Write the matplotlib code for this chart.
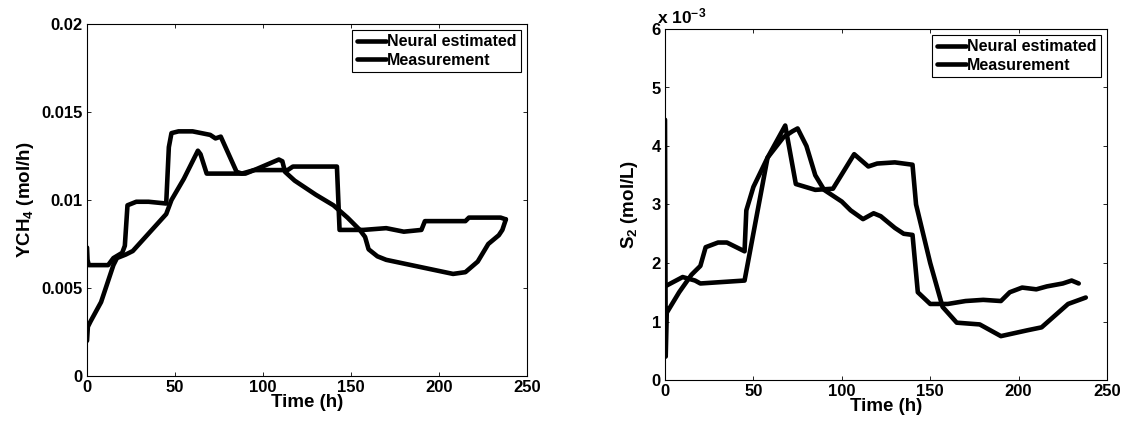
import matplotlib
matplotlib.use("Agg")
import matplotlib.pyplot as plt
from matplotlib.ticker import FuncFormatter

plt.rcParams['font.family'] = ['Liberation Sans', 'DejaVu Sans']
plt.rcParams['font.weight'] = 'bold'
plt.rcParams['mathtext.default'] = 'regular'

# ---- Left panel: YCH4 (mol/h) ----
ych4_meas_t = [0, 0.3, 1, 12, 15, 20, 21.5, 23, 28, 35, 45, 46.5, 48, 52, 60, 70, 73, 76,
               85, 88, 95, 112, 114, 117, 142, 143.5, 157, 170, 180, 190, 192, 215, 217, 235, 238]
ych4_meas_v = [0.0073, 0.0066, 0.0063, 0.0063, 0.0067, 0.0070, 0.0074, 0.0097, 0.0099, 0.0099, 0.0098,
               0.0130, 0.0138, 0.0139, 0.0139, 0.0137, 0.0135, 0.0136,
               0.0116, 0.0115, 0.0117, 0.0117, 0.0117, 0.0119, 0.0119, 0.0083, 0.0083, 0.0084, 0.0082,
               0.0083, 0.0088, 0.0088, 0.0090, 0.0090, 0.0089]

ych4_neur_t = [0, 0.5, 2, 8, 15, 17, 22, 26, 45, 48, 55, 63, 64.5, 68, 90, 95, 109, 111, 112.5, 118,
               130, 140, 148, 155, 158, 160, 165, 170, 208, 215, 222, 228, 234, 236, 238]
ych4_neur_v = [0.0020, 0.0028, 0.0031, 0.0042, 0.0063, 0.0067, 0.0069, 0.0071, 0.0092, 0.0100,
               0.0112, 0.0128, 0.0126, 0.0115, 0.0115, 0.0117, 0.0123, 0.0122, 0.0116, 0.0111,
               0.0103, 0.0097, 0.0090, 0.0083, 0.0079, 0.0072, 0.0068, 0.0066, 0.0058, 0.0059,
               0.0065, 0.0075, 0.0080, 0.0083, 0.0089]

# ---- Right panel: S2 (units of 1e-3 mol/L) ----
s2_meas_t = [0, 10, 17, 20, 45, 58, 68, 74, 85, 95, 107, 115, 120, 130, 140, 142, 150, 157, 165,
             178, 190, 205, 213, 228, 238]
s2_meas_v = [1.60, 1.76, 1.70, 1.65, 1.70, 3.80, 4.35, 3.35, 3.25, 3.27, 3.86, 3.65, 3.70, 3.72, 3.68,
             3.00, 2.00, 1.25, 0.98, 0.95, 0.75, 0.85, 0.90, 1.30, 1.41]

s2_neur_t = [0, 0.4, 1, 8, 15, 20, 23, 30, 35, 45, 46, 50, 58, 67, 72, 75, 80, 85, 90, 100, 105,
             112, 118, 122, 130, 135, 140, 143, 150, 160, 170, 180, 190, 195, 202, 210, 216, 225, 230, 234]
s2_neur_v = [4.45, 0.40, 1.15, 1.50, 1.80, 1.95, 2.27, 2.35, 2.35, 2.20, 2.90, 3.30, 3.80, 4.15, 4.25,
             4.30, 4.00, 3.50, 3.25, 3.05, 2.90, 2.75, 2.85, 2.80, 2.60, 2.50, 2.48, 1.50, 1.30, 1.30,
             1.35, 1.37, 1.35, 1.50, 1.58, 1.55, 1.60, 1.65, 1.70, 1.65]

legend_labels = ['Neural estimated', 'Measurement']
x_ticks = [0, 50, 100, 150, 200, 250]
ych4_ticks = [0, 0.005, 0.01, 0.015, 0.02]
ych4_ticklabels = ['0', '0.005', '0.01', '0.015', '0.02']
s2_ticks = [0, 1, 2, 3, 4, 5, 6]

W, H = 1129, 423
fig = plt.figure(figsize=(W / 100, H / 100), dpi=100)
ax1 = fig.add_axes([87 / W, 1 - 376 / H, (527 - 87) / W, (376 - 24) / H])
ax2 = fig.add_axes([665 / W, 1 - 380 / H, (1107 - 665) / W, (380 - 29) / H])

lw = 3.3
tick_fs = 12
label_fs = 13.5

for ax in (ax1, ax2):
    ax.set_xlim(0, 250)
    ax.set_xticks(x_ticks)
    ax.tick_params(direction='in', top=True, right=True, labelsize=tick_fs, length=3, width=0.6, pad=3)
    for s in ax.spines.values():
        s.set_linewidth(0.8)
    ax.set_xlabel('Time (h)', fontsize=label_fs, fontweight='bold', labelpad=-1)

ax1.plot(ych4_neur_t, ych4_neur_v, color='black', lw=lw, solid_capstyle='round', solid_joinstyle='round', label=legend_labels[0])
ax1.plot(ych4_meas_t, ych4_meas_v, color='black', lw=lw, solid_capstyle='round', solid_joinstyle='round', label=legend_labels[1])
ax1.set_ylim(0, 0.02)
ax1.set_yticks(ych4_ticks)
ax1.set_yticklabels(ych4_ticklabels)
ax1.set_ylabel('YCH$_4$ (mol/h)', fontsize=label_fs, fontweight='bold', labelpad=4)

ax2.plot(s2_neur_t, s2_neur_v, color='black', lw=lw, solid_capstyle='round', solid_joinstyle='round', label=legend_labels[0])
ax2.plot(s2_meas_t, s2_meas_v, color='black', lw=lw, solid_capstyle='round', solid_joinstyle='round', label=legend_labels[1])
ax2.set_ylim(0, 6)
ax2.set_yticks(s2_ticks)
ax2.yaxis.set_major_formatter(FuncFormatter(lambda v, p: '%d' % v))
ax2.set_ylabel('S$_2$ (mol/L)', fontsize=label_fs, fontweight='bold', labelpad=8)
ax2.text(-0.018, 1.008, 'x 10$^{-3}$', transform=ax2.transAxes, fontsize=12.5,
         fontweight='bold', ha='left', va='bottom')

for ax in (ax1, ax2):
    for lab in ax.get_xticklabels() + ax.get_yticklabels():
        lab.set_fontweight('bold')
    leg = ax.legend(loc='upper right', fontsize=11.5, handlelength=1.8, handletextpad=0.1,
                    borderpad=0.3, labelspacing=0.2, fancybox=False, framealpha=1,
                    edgecolor='black', borderaxespad=0.35)
    leg.get_frame().set_linewidth(0.8)
    for t in leg.get_texts():
        t.set_fontweight('bold')

fig.savefig('out.png', dpi=100)
